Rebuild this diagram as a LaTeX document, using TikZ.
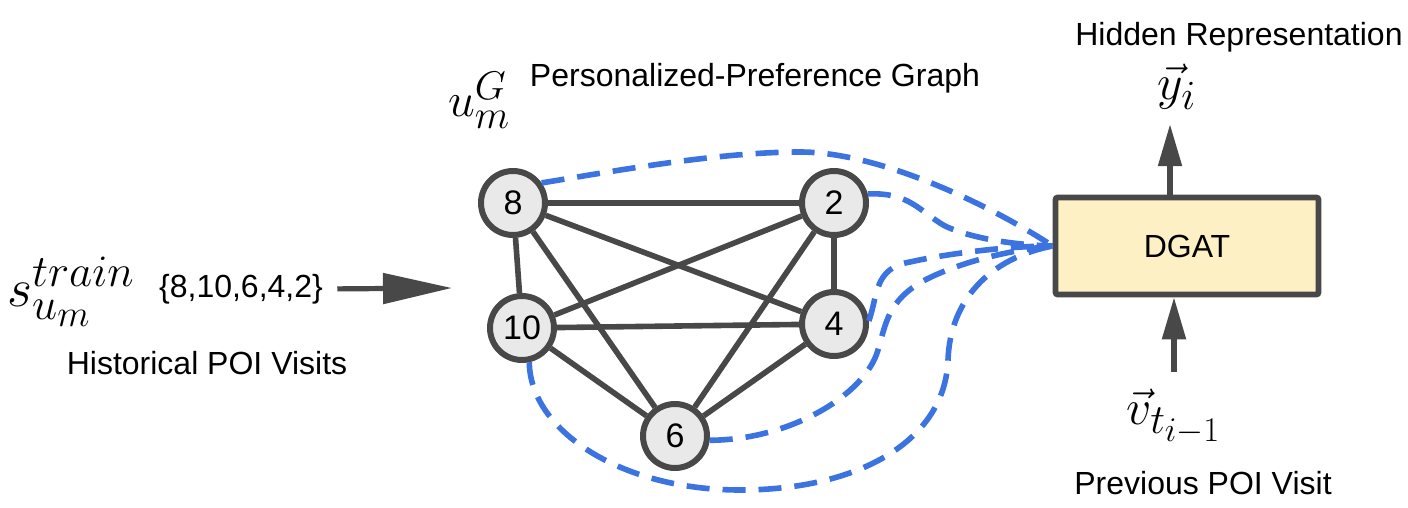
\documentclass[tikz,border=0pt]{standalone}
\usepackage{graphicx}
\usepackage[no-math]{fontspec}
\setmainfont{Liberation Sans}
\usetikzlibrary{arrows.meta}
\definecolor{edgegray}{RGB}{72,72,72}
\definecolor{dashblue}{RGB}{59,116,224}
\definecolor{boxyellow}{RGB}{253,240,196}
\definecolor{nodefill}{RGB}{233,233,233}
\newcommand{\mbig}[2]{\scalebox{#1}{\fontsize{24.88}{30}\selectfont$#2$}}
\begin{document}
\begin{tikzpicture}[x=0.5pt,y=-0.5pt,
  poi/.style={circle,draw=edgegray,fill=nodefill,line width=3pt,minimum size=32pt,inner sep=0pt,font=\fontsize{17}{20}\selectfont},
  edge/.style={draw=edgegray,line width=2.8pt},
  link/.style={draw=dashblue,line width=2.8pt,dash pattern=on 11.5pt off 6.5pt},
  flow/.style={draw=edgegray,line width=2.6pt,-{Triangle[length=21pt,width=11.5pt]}},
  lbl/.style={font=\fontsize{16}{19}\selectfont,inner sep=0pt},
  mth/.style={inner sep=0pt}]
\useasboundingbox (0,0) rectangle (1408,508);

% graph nodes
\node[poi] (n8) at (513,203) {8};
\node[poi] (n2) at (834,203) {2};
\node[poi] (n10) at (522,328) {10};
\node[poi] (n4) at (834,324) {4};
\node[poi] (n6) at (675,436) {6};

% edges (complete graph)
\draw[edge] (n8) -- (n2);
\draw[edge] (n8) -- (n10);
\draw[edge] (n8) -- (n4);
\draw[edge] (n8) -- (n6);
\draw[edge] (n2) -- (n10);
\draw[edge] (n2) -- (n4);
\draw[edge] (n2) -- (n6);
\draw[edge] (n10) -- (n4);
\draw[edge] (n10) -- (n6);
\draw[edge] (n4) -- (n6);

% DGAT box
\node[draw=edgegray,fill=boxyellow,line width=2.8pt,rounded corners=1pt,
      minimum width=131.5pt,minimum height=48.5pt,inner sep=0pt,
      font=\fontsize{16}{19}\selectfont] (dgat) at (1187,246) {DGAT};

% labels
\node[lbl] (hid) at (1239,37) {Hidden Representation};
\node[mth] (yv) at (1177,87) {\mbig{1}{\vec{y}_i}};
\node[mth] (vv) at (1174,417) {\mbig{1}{\vec{v}_{t_{i-1}}}};
\node[lbl] (prev) at (1203,483) {Previous POI Visit};
\node[lbl] (hist) at (207,363) {Historical POI Visits};
\node[mth] (strain) at (71,292) {\mbig{1.085}{s^{train}_{u_m}}};
\node[lbl] (seq) at (241,289) {\{8,10,6,4,2\}};
\node[mth] (um) at (479,100) {\mbig{0.965}{u_m^G}};
\node[lbl] (ppg) at (755,78) {Personalized-Preference Graph};

% input arrow
\coordinate (inarrow) at (452,288);
\draw[edgegray,line width=2.6pt,-{Triangle[length=34.5pt,width=15pt]},shorten <=7pt] (seq.east) -- (inarrow);

% up / bottom arrows
\draw[flow,shorten >=7pt] ([xshift=-8.5pt]dgat.north) -- ([xshift=-8.5pt]dgat.north |- yv.south);
\draw[flow,shorten <=8.5pt] ([xshift=-6.5pt]dgat.south |- vv.north) -- ([xshift=-6.5pt]dgat.south);

% dashed attention links
\draw[link] (n8.35) .. controls (620,170) and (720,152) .. (800,152)
  .. controls (880,152) and (990,205) .. (dgat.west);
\draw[link] (n2.15) .. controls (910,192) and (920,212) .. (945,226)
  .. controls (975,240) and (1020,245) .. (dgat.west);
\draw[link] (n4.5) .. controls (878,295) and (874,268) .. (910,262)
  .. controls (950,253) and (1010,246) .. (dgat.west);
\draw[link] (n6.-7) .. controls (790,440) and (865,395) .. (878,350)
  .. controls (886,323) and (888,300) .. (925,280)
  .. controls (960,262) and (1010,250) .. (dgat.west);
\draw[link] (n10.-78) .. controls (530,430) and (620,490) .. (740,490)
  .. controls (860,490) and (945,440) .. (948,360)
  .. controls (950,300) and (990,258) .. (dgat.west);
\end{tikzpicture}
\end{document}
